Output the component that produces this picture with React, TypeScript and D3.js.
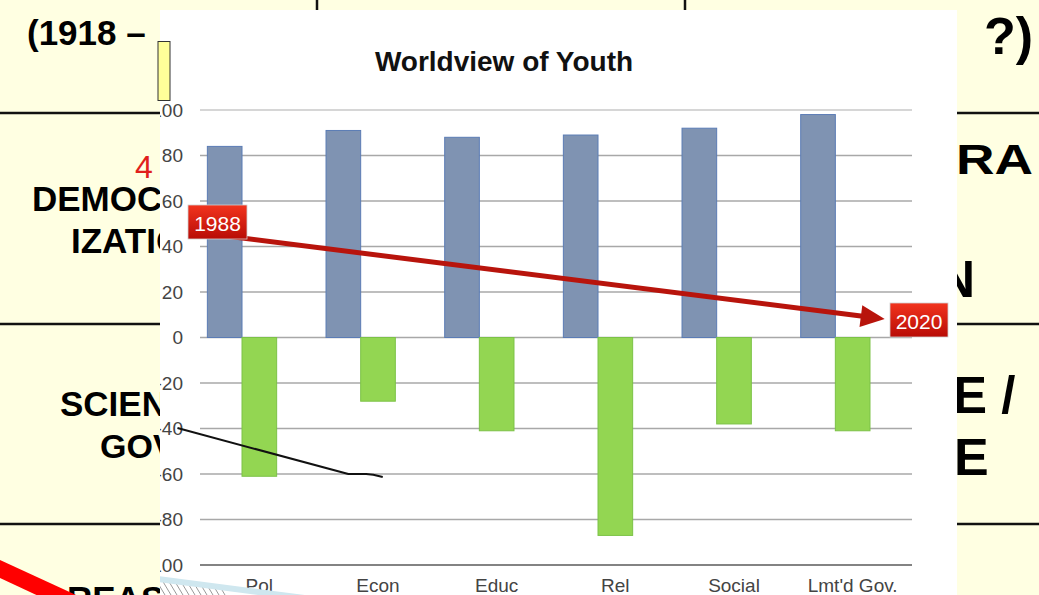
import React from "react";
import * as d3 from "d3";

const categories = ["Pol", "Econ", "Educ", "Rel", "Social", "Lmt'd Gov."];
const positiveValues = [84, 91, 88, 89, 92, 98];
const negativeValues = [-61, -28, -41, -87, -38, -41];
const yTicks = [100, 80, 60, 40, 20, 0, -20, -40, -60, -80, -100];
const title = "Worldview of Youth";
const arrowLabels = ["1988", "2020"];
// annotation arrow in data space: [category index, value]
const arrowFrom: [number, number] = [-0.08, 46.6];
const arrowTo: [number, number] = [5.77, 8.1];
const scribble: [number, number][] = [
  [-0.19, -39.8],
  [1.25, -60],
  [1.4, -60],
  [1.46, -60.3],
  [1.54, -61.3],
];

const W = 1039;
const H = 595;
const FONT = "'Liberation Sans', Arial, Helvetica, sans-serif";

export default function App() {
  const panel = { x0: 160, x1: 957, y0: 10, y1: 595 };
  const plot = { left: 200, right: 912, top: 110, bottom: 565 };

  const y = d3.scaleLinear().domain([-100, 100]).range([plot.bottom, plot.top]);
  const x = d3.scaleBand<string>().domain(categories).range([plot.left, plot.right]);
  const xi = d3
    .scaleLinear()
    .domain([0, categories.length])
    .range([plot.left, plot.right]);
  const bw = x.bandwidth() * 0.292;

  const center = (c: string) => (x(c) as number) + x.bandwidth() / 2;

  // arrow geometry
  const ax0 = xi(arrowFrom[0]);
  const ay0 = y(arrowFrom[1]);
  const ax1 = xi(arrowTo[0]);
  const ay1 = y(arrowTo[1]);
  const dx = ax1 - ax0;
  const dy = ay1 - ay0;
  const len = Math.hypot(dx, dy);
  const ux = dx / len;
  const uy = dy / len;
  const headL = 24;
  const headW = 11;
  const bx = ax1 - ux * headL;
  const by = ay1 - uy * headL;
  const head = [
    [ax1, ay1],
    [bx - uy * headW, by + ux * headW],
    [bx + uy * headW, by - ux * headW],
  ];

  const scribbleLine = d3
    .line<[number, number]>()
    .x((d) => xi(d[0]))
    .y((d) => y(d[1]))
    .curve(d3.curveLinear);

  const gridColor = (t: number) =>
    t === 100 ? "#c9c9c9" : t === -100 ? "#5a5a5a" : "#a8a8a8";

  return (
    <svg
      width={W}
      height={H}
      style={{ position: "absolute", left: 0, top: 0, display: "block" }}
      fontFamily={FONT}
    >
      <defs>
        <clipPath id="panelClip">
          <rect x={panel.x0} y={panel.y0} width={panel.x1 - panel.x0} height={panel.y1 - panel.y0} />
        </clipPath>
        <linearGradient id="redGrad" x1="0" y1="0" x2="0" y2="1">
          <stop offset="0" stopColor="#f2341e" />
          <stop offset="1" stopColor="#b80c06" />
        </linearGradient>
        <clipPath id="hatchClip">
          <polygon points="160,581 300,600 160,600" />
        </clipPath>
      </defs>

      {/* slide background */}
      <rect x={0} y={0} width={W} height={H} fill="#ffffe2" />
      {/* table lines */}
      <g stroke="#111" strokeWidth={2.5}>
        <line x1={317} y1={0} x2={317} y2={12} />
        <line x1={685} y1={0} x2={685} y2={12} />
        <line x1={0} y1={113} x2={W} y2={113} />
        <line x1={0} y1={324} x2={W} y2={324} />
        <line x1={0} y1={524} x2={W} y2={524} />
      </g>
      {/* slide text */}
      <g fontWeight="bold" fill="#000">
        <text x={27} y={45} fontSize={35}>(1918 –</text>
        <text x={1033} y={54} fontSize={52} textAnchor="end">?)</text>
        <text x={32} y={211} fontSize={35}>DEMOCRAT-</text>
        <text x={71} y={253} fontSize={35}>IZATION</text>
        <text x={60} y={416} fontSize={35}>SCIENCE &amp;</text>
        <text x={100} y={458} fontSize={34}>GOVERNMENT</text>
        <text x={67} y={611} fontSize={35}>REASON</text>
        <text x={956} y={174} fontSize={42} textLength={77} lengthAdjust="spacingAndGlyphs">RA</text>
        <text x={975} y={297} fontSize={51} textAnchor="end">ON</text>
        <text x={953} y={413} fontSize={51}>E /</text>
        <text x={954} y={475} fontSize={52}>E</text>
      </g>
      <text x={135} y={178} fontSize={32} fill="#e0201c">4</text>
      {/* red slide stroke bottom-left */}
      <polygon points="0,560 0,578 60,606 100,606" fill="#ff0000" />

      {/* chart panel */}
      <rect x={panel.x0} y={panel.y0} width={panel.x1 - panel.x0} height={panel.y1 - panel.y0} fill="#ffffff" />
      <g clipPath="url(#panelClip)">
        <text x={(plot.left + plot.right) / 2 - 52} y={71} fontSize={28} fontWeight="bold" textAnchor="middle" fill="#111">
          {title}
        </text>
        {yTicks.map((t) => (
          <g key={t}>
            <line x1={plot.left} x2={plot.right} y1={y(t)} y2={y(t)} stroke={gridColor(t)} strokeWidth={1.3} />
            <text x={183} y={y(t)} dy="0.36em" fontSize={19} textAnchor="end" fill="#444">
              {t}
            </text>
          </g>
        ))}
        {categories.map((c, i) => (
          <g key={c}>
            <rect
              x={center(c) - 1.5 * bw}
              y={y(positiveValues[i])}
              width={bw}
              height={y(0) - y(positiveValues[i])}
              fill="#7f93b2"
              stroke="#5b7cb5"
              strokeWidth={1}
            />
            <rect
              x={center(c) - 0.5 * bw}
              y={y(0)}
              width={bw}
              height={y(negativeValues[i]) - y(0)}
              fill="#93d652"
              stroke="#7cc247"
              strokeWidth={1}
            />
            <text x={center(c)} y={592} fontSize={19} textAnchor="middle" fill="#444">
              {c}
            </text>
          </g>
        ))}
        {/* bottom-left decoration */}
        <g clipPath="url(#hatchClip)" stroke="#9a9a9a" strokeWidth={1}>
          {d3.range(0, 12).map((k) => (
            <line key={k} x1={150 + k * 6} y1={580} x2={162 + k * 6} y2={600} />
          ))}
        </g>
        <line x1={158} y1={579} x2={320} y2={600} stroke="#cfe7ef" strokeWidth={6} />

        {/* hand-drawn scribble */}
        <path d={scribbleLine(scribble) || ""} fill="none" stroke="#111" strokeWidth={2} strokeLinejoin="round" />
      </g>

      {/* annotation arrow */}
      <line x1={ax0} y1={ay0} x2={bx + ux * 2} y2={by + uy * 2} stroke="#b8140c" strokeWidth={5} />
      <polygon points={head.map((p) => p.join(",")).join(" ")} fill="#b8140c" />
      <g>
        <rect x={188} y={205} width={59} height={34} fill="url(#redGrad)" stroke="#d0d0d0" strokeWidth={0.8} />
        <text x={217.5} y={231} fontSize={21} textAnchor="middle" fill="#fff">{arrowLabels[0]}</text>
        <rect x={890} y={303} width={58} height={34} fill="url(#redGrad)" stroke="#d0d0d0" strokeWidth={0.8} />
        <text x={919} y={329} fontSize={21} textAnchor="middle" fill="#fff">{arrowLabels[1]}</text>
      </g>

      {/* small yellow box */}
      <rect x={158} y={41.5} width={12} height={59} fill="#ffff99" stroke="#333" strokeWidth={1} />
    </svg>
  );
}
